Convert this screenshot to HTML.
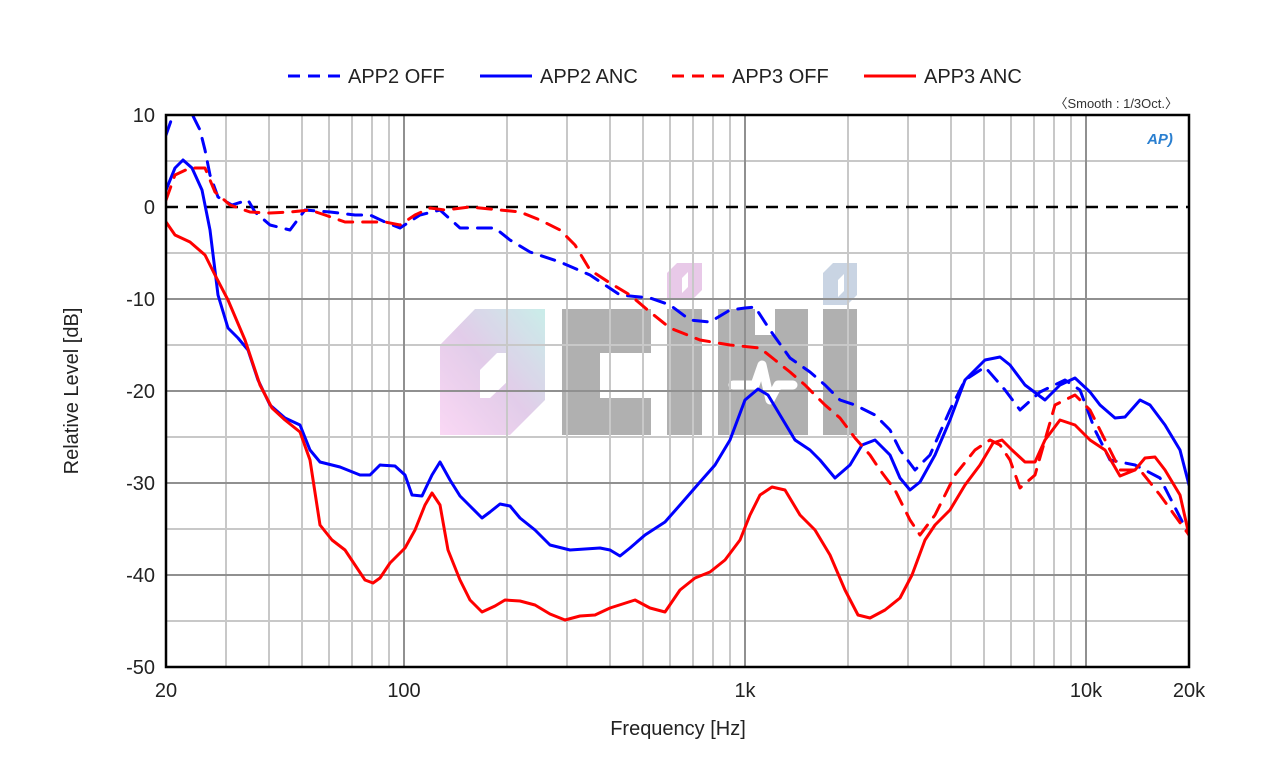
<!DOCTYPE html>
<html><head><meta charset="utf-8"><style>
html,body{margin:0;padding:0;background:#fff;}
svg{display:block;font-family:"Liberation Sans","Noto Sans CJK KR",sans-serif;}
</style></head><body>
<svg width="1280" height="768" viewBox="0 0 1280 768" xmlns="http://www.w3.org/2000/svg">
<defs>
<clipPath id="pc"><rect x="166" y="115" width="1023" height="552"/></clipPath>
<linearGradient id="hg" x1="1" y1="0" x2="0" y2="1">
<stop offset="0" stop-color="#b4e6e0"/><stop offset="0.5" stop-color="#d6b8e0"/><stop offset="1" stop-color="#f8c8f0"/></linearGradient>
</defs>
<!-- watermark -->
<g opacity="0.9">
<path d="M475 309 H545 V400 L510 435 H440 V345 Z M497 353 L480 370 V398 H490 L508 381 V353 Z" fill="url(#hg)" fill-rule="evenodd" opacity="0.8"/>
<path d="M562 309 H651 V353 H600 V398 H651 V435 H562 Z" fill="#a8a8a8"/>
<rect x="667" y="309" width="35" height="126" fill="#a8a8a8"/>
<path d="M677 263 H702 V290 L692 300 H667 V273 Z M682 278 L688 272 V287 L682 293 Z" fill="#e6c4e6" fill-rule="evenodd"/>
<path d="M718 309 H755 V335 H775 V309 H808 V435 H718 Z" fill="#a8a8a8"/>
<path d="M733 385 L755 385 L762 365 L770 400 L778 385 L793 385" stroke="#fff" stroke-width="9" fill="none" stroke-linejoin="round" stroke-linecap="round"/>
<rect x="823" y="309" width="34" height="126" fill="#a8a8a8"/>
<path d="M833 263 H857 V295 L847 305 H823 V273 Z M838 280 L844 274 V291 L838 297 Z" fill="#c4d0e0" fill-rule="evenodd"/>
</g>
<!-- grid -->
<g stroke="#c8c8c8" stroke-width="2">
<line x1="166" y1="161" x2="1189" y2="161"/><line x1="166" y1="253" x2="1189" y2="253"/>
<line x1="166" y1="345" x2="1189" y2="345"/><line x1="166" y1="437" x2="1189" y2="437"/>
<line x1="166" y1="529" x2="1189" y2="529"/><line x1="166" y1="621" x2="1189" y2="621"/>
<line x1="226" y1="115" x2="226" y2="667"/><line x1="269" y1="115" x2="269" y2="667"/><line x1="302" y1="115" x2="302" y2="667"/><line x1="329" y1="115" x2="329" y2="667"/><line x1="352" y1="115" x2="352" y2="667"/><line x1="372" y1="115" x2="372" y2="667"/><line x1="389" y1="115" x2="389" y2="667"/>
<line x1="507" y1="115" x2="507" y2="667"/><line x1="567" y1="115" x2="567" y2="667"/><line x1="610" y1="115" x2="610" y2="667"/><line x1="643" y1="115" x2="643" y2="667"/><line x1="670" y1="115" x2="670" y2="667"/><line x1="693" y1="115" x2="693" y2="667"/><line x1="713" y1="115" x2="713" y2="667"/><line x1="730" y1="115" x2="730" y2="667"/>
<line x1="848" y1="115" x2="848" y2="667"/><line x1="908" y1="115" x2="908" y2="667"/><line x1="951" y1="115" x2="951" y2="667"/><line x1="984" y1="115" x2="984" y2="667"/><line x1="1011" y1="115" x2="1011" y2="667"/><line x1="1034" y1="115" x2="1034" y2="667"/><line x1="1054" y1="115" x2="1054" y2="667"/><line x1="1071" y1="115" x2="1071" y2="667"/>
<line x1="1189" y1="115" x2="1189" y2="667"/>
</g>
<g stroke="#909090" stroke-width="2">
<line x1="166" y1="299" x2="1189" y2="299"/><line x1="166" y1="391" x2="1189" y2="391"/>
<line x1="166" y1="483" x2="1189" y2="483"/><line x1="166" y1="575" x2="1189" y2="575"/>
<line x1="404" y1="115" x2="404" y2="667"/><line x1="745" y1="115" x2="745" y2="667"/><line x1="1086" y1="115" x2="1086" y2="667"/>
</g>
<line x1="166" y1="207" x2="1189" y2="207" stroke="#000" stroke-width="2.5" stroke-dasharray="12,8"/>
<g clip-path="url(#pc)" fill="none" stroke-width="3" stroke-linejoin="round" stroke-linecap="round">
<polyline stroke="#0000ff" stroke-dasharray="14,10" points="166,135 172,118 180,108 190,110 200,130 205,150 210,175 218,197 232,205 248,200 255,212 270,225 290,230 305,210 330,212 355,215 370,215 385,222 400,228 420,215 440,210 460,228 480,228 495,228 510,240 530,252 560,262 590,275 620,295 650,298 670,305 690,320 710,322 730,310 745,308 755,307 770,330 790,358 810,372 825,385 840,400 855,405 875,415 890,430 900,450 915,470 930,455 950,410 965,380 985,367 1005,390 1020,410 1040,392 1065,380 1080,390 1095,430 1110,460 1135,465 1160,478 1189,535"/>
<polyline stroke="#0000ff" points="166,190 175,168 183,160 192,168 202,190 210,230 218,295 228,328 238,338 248,350 258,380 270,405 285,418 300,425 310,450 320,462 340,467 360,475 370,475 380,465 395,466 405,475 412,495 422,496 432,475 440,462 450,480 460,496 470,506 482,518 490,512 500,504 510,506 520,518 535,530 550,545 570,550 600,548 610,550 620,556 630,548 645,535 665,522 680,505 700,482 715,465 730,440 745,400 758,389 768,395 780,415 795,440 810,450 820,460 835,478 850,465 862,445 875,440 890,455 900,478 910,490 920,482 935,455 950,420 965,380 985,360 1000,357 1010,365 1025,385 1045,400 1060,385 1075,378 1090,392 1100,405 1115,418 1125,417 1140,400 1150,405 1165,425 1180,450 1189,485"/>
<polyline stroke="#ff0000" stroke-dasharray="14,10" points="166,200 175,175 190,168 205,168 215,192 230,205 250,212 270,213 290,212 310,210 325,215 345,222 370,222 385,222 400,225 415,215 430,208 445,210 470,207 500,210 520,212 540,220 560,230 575,245 590,270 610,283 630,295 650,312 670,328 700,340 730,345 760,348 775,360 790,372 805,385 825,405 840,418 855,438 870,455 880,470 895,490 910,520 920,535 935,515 955,475 975,450 990,440 1000,445 1010,460 1020,488 1035,475 1045,440 1055,405 1075,395 1090,410 1105,440 1120,470 1140,470 1160,495 1189,535"/>
<polyline stroke="#ff0000" points="166,222 175,235 190,242 205,255 215,275 228,300 245,340 260,385 272,408 285,420 300,432 310,460 320,525 332,540 345,550 355,565 365,580 373,583 380,578 390,563 405,548 415,530 425,505 432,493 440,505 448,550 460,580 470,600 482,612 495,606 505,600 520,601 535,605 550,614 565,620 580,616 595,615 610,608 635,600 650,608 665,612 680,590 695,578 710,572 725,560 740,540 750,515 760,495 772,487 785,490 800,515 815,530 830,555 845,590 858,615 870,618 885,610 900,598 912,575 925,540 935,525 950,510 965,485 980,465 993,443 1002,440 1012,450 1025,462 1035,462 1045,440 1060,420 1075,425 1090,440 1105,450 1120,476 1135,470 1145,458 1155,457 1165,470 1180,495 1189,535"/>
</g>
<rect x="166" y="115" width="1023" height="552" fill="none" stroke="#000" stroke-width="2.5"/>
<!-- ticks -->
<g font-size="20" fill="#222" text-anchor="end">
<text x="155" y="122">10</text><text x="155" y="214">0</text><text x="155" y="306">-10</text>
<text x="155" y="398">-20</text><text x="155" y="490">-30</text><text x="155" y="582">-40</text><text x="155" y="674">-50</text>
</g>
<g font-size="20" fill="#222" text-anchor="middle">
<text x="166" y="697">20</text><text x="404" y="697">100</text><text x="745" y="697">1k</text>
<text x="1086" y="697">10k</text><text x="1189" y="697">20k</text>
<text x="678" y="735">Frequency [Hz]</text>
</g>
<text transform="translate(78,391) rotate(-90)" font-size="20" fill="#222" text-anchor="middle">Relative Level [dB]</text>
<text x="1178" y="108" font-size="13" fill="#333" text-anchor="end">〈Smooth : 1/3Oct.〉</text>
<text x="1160" y="144" font-size="15" font-style="italic" font-weight="bold" fill="#2a7fd0" text-anchor="middle">AP)</text>
<!-- legend -->
<g stroke-width="3" fill="none">
<line x1="288" y1="76" x2="340" y2="76" stroke="#0000ff" stroke-dasharray="12,8"/>
<line x1="480" y1="76" x2="532" y2="76" stroke="#0000ff"/>
<line x1="672" y1="76" x2="724" y2="76" stroke="#ff0000" stroke-dasharray="12,8"/>
<line x1="864" y1="76" x2="916" y2="76" stroke="#ff0000"/>
</g>
<g font-size="20" fill="#222">
<text x="348" y="83">APP2 OFF</text><text x="540" y="83">APP2 ANC</text>
<text x="732" y="83">APP3 OFF</text><text x="924" y="83">APP3 ANC</text>
</g>
</svg>
</body></html>
